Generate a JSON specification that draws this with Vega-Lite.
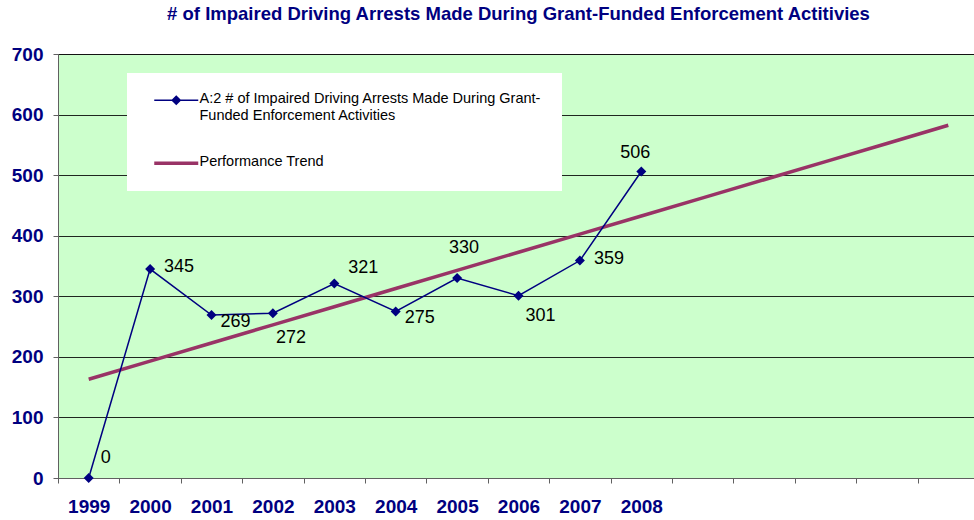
{
  "$schema": "https://vega.github.io/schema/vega-lite/v6.json",
  "width": 921,
  "height": 424,
  "autosize": "none",
  "padding": {"left": 58, "top": 54, "right": 0, "bottom": 42},
  "background": "white",
  "title": {
    "text": "# of Impaired Driving Arrests Made During Grant-Funded Enforcement Actitivies",
    "font": "Liberation Sans",
    "fontSize": 18.5,
    "fontWeight": "bold",
    "color": "#000080",
    "anchor": "middle",
    "offset": 22
  },
  "config": {
    "view": {"fill": "#CCFFCC", "stroke": "#808080", "strokeWidth": 1},
    "font": "Liberation Sans"
  },
  "datasets": {
    "arrests": [
      {"year": "1999", "value": 0, "series": "A:2 # of Impaired Driving Arrests Made During Grant-Funded Enforcement Activities"},
      {"year": "2000", "value": 345, "series": "A:2 # of Impaired Driving Arrests Made During Grant-Funded Enforcement Activities"},
      {"year": "2001", "value": 269, "series": "A:2 # of Impaired Driving Arrests Made During Grant-Funded Enforcement Activities"},
      {"year": "2002", "value": 272, "series": "A:2 # of Impaired Driving Arrests Made During Grant-Funded Enforcement Activities"},
      {"year": "2003", "value": 321, "series": "A:2 # of Impaired Driving Arrests Made During Grant-Funded Enforcement Activities"},
      {"year": "2004", "value": 275, "series": "A:2 # of Impaired Driving Arrests Made During Grant-Funded Enforcement Activities"},
      {"year": "2005", "value": 330, "series": "A:2 # of Impaired Driving Arrests Made During Grant-Funded Enforcement Activities"},
      {"year": "2006", "value": 301, "series": "A:2 # of Impaired Driving Arrests Made During Grant-Funded Enforcement Activities"},
      {"year": "2007", "value": 359, "series": "A:2 # of Impaired Driving Arrests Made During Grant-Funded Enforcement Activities"},
      {"year": "2008", "value": 506, "series": "A:2 # of Impaired Driving Arrests Made During Grant-Funded Enforcement Activities"}
    ],
    "trend": [
      {"year": "1999", "value": 163.1, "series": "Performance Trend"},
      {"year": "2000", "value": 193.0, "series": "Performance Trend"},
      {"year": "2001", "value": 222.9, "series": "Performance Trend"},
      {"year": "2002", "value": 252.9, "series": "Performance Trend"},
      {"year": "2003", "value": 282.8, "series": "Performance Trend"},
      {"year": "2004", "value": 312.8, "series": "Performance Trend"},
      {"year": "2005", "value": 342.7, "series": "Performance Trend"},
      {"year": "2006", "value": 372.7, "series": "Performance Trend"},
      {"year": "2007", "value": 402.6, "series": "Performance Trend"},
      {"year": "2008", "value": 432.5, "series": "Performance Trend"},
      {"year": "2009", "value": 462.5, "series": "Performance Trend"},
      {"year": "2010", "value": 492.4, "series": "Performance Trend"},
      {"year": "2011", "value": 522.4, "series": "Performance Trend"},
      {"year": "2012", "value": 552.3, "series": "Performance Trend"},
      {"year": "2013", "value": 582.3, "series": "Performance Trend"}
    ]
  },
  "encoding": {
    "x": {
      "field": "year", "type": "ordinal",
      "scale": {"domain": ["1999","2000","2001","2002","2003","2004","2005","2006","2007","2008","2009","2010","2011","2012","2013"], "paddingInner": 0, "paddingOuter": 0},
      "axis": {
        "title": null,
        "labelExpr": "toNumber(datum.value) <= 2008 ? datum.value : ''",
        "labelAngle": 0,
        "labelFont": "Liberation Sans",
        "labelFontSize": 19,
        "labelFontWeight": "bold",
        "labelColor": "#000080",
        "labelPadding": 14,
        "tickBand": "extent",
        "tickSize": 5,
        "tickColor": "#606060",
        "domainColor": "#606060",
        "grid": false
      }
    },
    "y": {
      "field": "value", "type": "quantitative",
      "scale": {"domain": [0, 700], "nice": false},
      "axis": {
        "title": null,
        "values": [0,100,200,300,400,500,600,700],
        "labelFont": "Liberation Sans",
        "labelFontSize": 19,
        "labelFontWeight": "bold",
        "labelColor": "#000080",
        "labelPadding": 10,
        "tickSize": 5,
        "tickColor": "#606060",
        "domainColor": "#606060",
        "grid": true,
        "gridColor": "#000000",
        "gridOpacity": 0.85,
        "gridWidth": 1
      }
    },
    "color": {
      "field": "series", "type": "nominal",
      "scale": {
        "domain": ["A:2 # of Impaired Driving Arrests Made During Grant-Funded Enforcement Activities", "Performance Trend"],
        "range": ["#000080", "#993366"]
      },
      "legend": {
        "title": null,
        "orient": "none",
        "legendX": 69,
        "legendY": 19,
        "fillColor": "white",
        "padding": 20,
        "labelFont": "Liberation Sans",
        "labelFontSize": 14.5,
        "labelColor": "#000000",
        "labelLimit": 500,
        "labelExpr": "datum.label == 'Performance Trend' ? datum.label : ['A:2 # of Impaired Driving Arrests Made During Grant-', 'Funded Enforcement Activities']",
        "labelBaseline": "top",
        "labelOffset": 38,
        "symbolType": "stroke",
        "symbolSize": 400,
        "symbolStrokeWidth": 2,
        "rowPadding": 31,
        "symbolOffset": 0,
        "encode": {
          "symbols": {
            "update": {
              "shape": {"signal": "datum.value == 'Performance Trend' ? 'M0,0H4.4' : 'M0,0H4.4M1.8,0L2.2,-0.4L2.6,0L2.2,0.4Z'"},
              "strokeWidth": {"signal": "datum.value == 'Performance Trend' ? 3.5 : 1.5"},
              "fill": {"signal": "datum.value == 'Performance Trend' ? 'transparent' : '#000080'"},
              "fillOpacity": {"value": 1}
            }
          },
          "labels": {
            "update": {"dy": {"value": -8}}
          }
        }
      }
    }
  },
  "layer": [
    {
      "data": {"name": "trend"},
      "mark": {"type": "line", "strokeWidth": 3.5}
    },
    {
      "data": {"name": "arrests"},
      "mark": {"type": "line", "strokeWidth": 1.5}
    },
    {
      "data": {"name": "arrests"},
      "mark": {"type": "point", "shape": "diamond", "filled": true, "size": 100, "opacity": 1},
      "encoding": {"color": {"value": "#000080"}}
    },
    {
      "data": {"name": "arrests"},
      "transform": [{"filter": {"field": "year", "oneOf": ["1999"]}}],
      "mark": {"type": "text", "fontSize": 18, "dx": 17, "dy": -20},
      "encoding": {"text": {"field": "value"}, "color": {"value": "black"}}
    },
    {
      "data": {"name": "arrests"},
      "transform": [{"filter": {"field": "year", "oneOf": ["2000", "2007"]}}],
      "mark": {"type": "text", "fontSize": 18, "align": "left", "dx": 14, "dy": -2},
      "encoding": {"text": {"field": "value"}, "color": {"value": "black"}}
    },
    {
      "data": {"name": "arrests"},
      "transform": [{"filter": {"field": "year", "oneOf": ["2001", "2004"]}}],
      "mark": {"type": "text", "fontSize": 18, "align": "left", "dx": 9, "dy": 7},
      "encoding": {"text": {"field": "value"}, "color": {"value": "black"}}
    },
    {
      "data": {"name": "arrests"},
      "transform": [{"filter": {"field": "year", "oneOf": ["2006"]}}],
      "mark": {"type": "text", "fontSize": 18, "align": "left", "dx": 7, "dy": 20},
      "encoding": {"text": {"field": "value"}, "color": {"value": "black"}}
    },
    {
      "data": {"name": "arrests"},
      "transform": [{"filter": {"field": "year", "oneOf": ["2002"]}}],
      "mark": {"type": "text", "fontSize": 18, "dx": 18, "dy": 25},
      "encoding": {"text": {"field": "value"}, "color": {"value": "black"}}
    },
    {
      "data": {"name": "arrests"},
      "transform": [{"filter": {"field": "year", "oneOf": ["2003"]}}],
      "mark": {"type": "text", "fontSize": 18, "dx": 29, "dy": -16},
      "encoding": {"text": {"field": "value"}, "color": {"value": "black"}}
    },
    {
      "data": {"name": "arrests"},
      "transform": [{"filter": {"field": "year", "oneOf": ["2005"]}}],
      "mark": {"type": "text", "fontSize": 18, "dx": 7, "dy": -30},
      "encoding": {"text": {"field": "value"}, "color": {"value": "black"}}
    },
    {
      "data": {"name": "arrests"},
      "transform": [{"filter": {"field": "year", "oneOf": ["2008"]}}],
      "mark": {"type": "text", "fontSize": 18, "dx": -6, "dy": -19},
      "encoding": {"text": {"field": "value"}, "color": {"value": "black"}}
    }
  ]
}
